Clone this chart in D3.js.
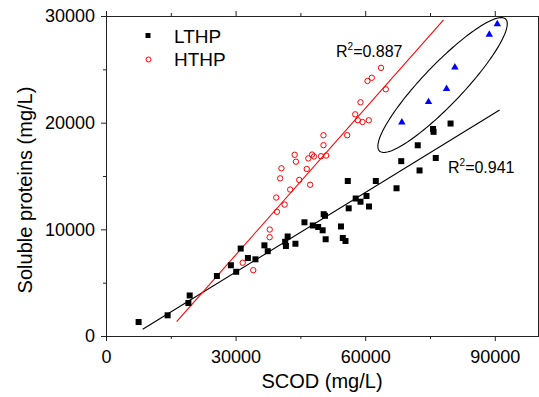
<!DOCTYPE html>
<html>
<head>
<meta charset="utf-8">
<script src="https://cdn.jsdelivr.net/npm/d3@7"></script>
<style>
  body { margin: 0; background: #fff; }
  svg text { font-family: "Liberation Sans", Arial, sans-serif; fill: #000; }
</style>
</head>
<body>
<div id="chart-area"></div>
<script>

// LTHP samples [SCOD, soluble proteins] (mg/L)
const lthpPoints = [
  [7550, 1310], [14270, 1940], [19070, 3090], [19370, 3800], [25670, 5625],
  [28910, 6630], [30140, 6020], [31180, 8200], [32850, 7310], [34590, 7190],
  [36670, 8500], [37440, 7950], [41470, 8830], [42050, 9330], [41650, 8440],
  [43850, 8650], [45940, 10660], [47860, 10360], [49110, 10220], [50150, 9910],
  [50850, 9070], [50390, 11420], [50690, 11270], [54390, 10270], [54810, 9190],
  [55440, 8910], [55970, 14530], [56180, 11970], [57800, 12890], [58910, 12590],
  [60300, 13125], [60880, 12140], [62460, 14530], [67250, 13850], [68340, 16390],
  [72580, 15520], [72160, 17880], [76330, 16690], [75710, 19410], [75820, 19140],
  [79760, 19920]
];

// HTHP samples
const hthpPoints = [
  [31650, 6870], [34080, 6170], [37900, 9980], [37880, 9260], [39410, 12980],
  [39570, 11650], [41350, 12320], [42630, 13730], [44730, 14630], [47260, 14180],
  [40330, 14780], [40610, 15720], [46470, 15660], [43670, 16990], [43970, 16340],
  [46840, 16650], [47700, 17010], [48140, 16830], [49760, 16850], [50970, 16920],
  [50340, 17890], [50340, 18820], [55830, 18820], [57690, 20780], [58290, 20230],
  [59380, 20060], [60830, 20220], [58910, 21910], [64770, 23130], [60530, 23910],
  [61530, 24210], [63660, 25140]
];

// circled group (blue triangles)
const circledPoints = [
  [68480, 20030], [74660, 21940], [78830, 23180], [80760, 25190],
  [88730, 28250], [90580, 29250]
];

// fitted lines: slope, intercept, x range
const lthpFit = { slope: 0.2488, intercept: -1485, from: 8490, to: 91110, r2: '0.941' };
const hthpFit = { slope: 0.4578, intercept: -6146, from: 16355, to: 78140, r2: '0.887' };

// ellipse around the circled group, in data units
const ellipseCenter = [77910, 23530];
const ellipseMajor = [14595, 6188];
const ellipseMinor = [3360, -1294];

const xTicksMajor = [0, 30000, 60000, 90000];
const xTicksMinor = [15000, 45000, 75000];
const yTicksMajor = [0, 10000, 20000, 30000];
const yTicksMinor = [5000, 15000, 25000];

const widthSvg = 539;
const heightSvg = 397;
const font = '"Liberation Sans", Arial, sans-serif';

const x = d3.scaleLinear().domain([0, 100000]).range([106, 538]);
const y = d3.scaleLinear().domain([0, 30000]).range([336, 16]);

const svg = d3.select('#chart-area').append('svg')
  .attr('width', widthSvg)
  .attr('height', heightSvg);

const styleAxis = (g) => {
  g.select('.domain').remove();
  g.selectAll('line').attr('stroke', '#222');
  g.selectAll('text')
    .attr('font-family', font)
    .attr('font-size', '18px')
    .attr('fill', '#000');
};

// bottom axis
svg.append('g')
  .attr('transform', `translate(0, ${y(0)})`)
  .call(d3.axisBottom(x).tickValues(xTicksMajor).tickSize(5).tickPadding(9)
    .tickFormat(d3.format('d')))
  .call(styleAxis);
svg.append('g')
  .attr('transform', `translate(0, ${y(0)})`)
  .call(d3.axisBottom(x).tickValues(xTicksMinor).tickSize(3).tickFormat(''))
  .call(styleAxis);

// top axis (ticks only)
svg.append('g')
  .attr('transform', `translate(0, ${y(30000)})`)
  .call(d3.axisTop(x).tickValues(xTicksMajor).tickSize(5).tickFormat(''))
  .call(styleAxis);
svg.append('g')
  .attr('transform', `translate(0, ${y(30000)})`)
  .call(d3.axisTop(x).tickValues(xTicksMinor).tickSize(3).tickFormat(''))
  .call(styleAxis);

// left axis
svg.append('g')
  .attr('transform', `translate(${x(0)}, 0)`)
  .call(d3.axisLeft(y).tickValues(yTicksMajor).tickSize(5).tickPadding(6)
    .tickFormat(d3.format('d')))
  .call(styleAxis);
svg.append('g')
  .attr('transform', `translate(${x(0)}, 0)`)
  .call(d3.axisLeft(y).tickValues(yTicksMinor).tickSize(3).tickFormat(''))
  .call(styleAxis);

// frame
svg.append('rect')
  .attr('x', x(0) + 0.5)
  .attr('y', y(30000) + 0.5)
  .attr('width', x(100000) - x(0))
  .attr('height', y(0) - y(30000))
  .attr('fill', 'none')
  .attr('stroke', '#222')
  .attr('stroke-width', 1);

// axis titles
svg.append('text')
  .text('SCOD (mg/L)')
  .attr('x', (x(0) + x(100000)) / 2)
  .attr('y', 388)
  .attr('text-anchor', 'middle')
  .attr('font-size', '20px');

svg.append('text')
  .text('Soluble proteins (mg/L)')
  .attr('transform', `translate(32, 190)rotate(-90)`)
  .attr('text-anchor', 'middle')
  .attr('font-size', '20px');

// fit lines
const fitLine = (fit, color) => {
  svg.append('line')
    .attr('x1', x(fit.from))
    .attr('y1', y(fit.slope * fit.from + fit.intercept))
    .attr('x2', x(fit.to))
    .attr('y2', y(fit.slope * fit.to + fit.intercept))
    .attr('stroke', color)
    .attr('stroke-width', 1.1);
};
fitLine(lthpFit, '#000');
fitLine(hthpFit, '#ff0000');

// ellipse
const ellipsePts = d3.range(0, 2 * Math.PI + 0.01, Math.PI / 90).map(t => [
  ellipseCenter[0] + Math.cos(t) * ellipseMajor[0] + Math.sin(t) * ellipseMinor[0],
  ellipseCenter[1] + Math.cos(t) * ellipseMajor[1] + Math.sin(t) * ellipseMinor[1]
]);
svg.append('path')
  .attr('d', d3.line().x(d => x(d[0])).y(d => y(d[1]))(ellipsePts))
  .attr('fill', 'none')
  .attr('stroke', '#000')
  .attr('stroke-width', 1.1);

// markers
const sq = 6;
svg.append('g').selectAll('rect')
  .data(lthpPoints)
  .enter().append('rect')
    .attr('x', d => x(d[0]) - sq / 2)
    .attr('y', d => y(d[1]) - sq / 2)
    .attr('width', sq)
    .attr('height', sq)
    .attr('fill', '#000');

svg.append('g').selectAll('circle')
  .data(hthpPoints)
  .enter().append('circle')
    .attr('cx', d => x(d[0]))
    .attr('cy', d => y(d[1]))
    .attr('r', 2.7)
    .attr('fill', 'none')
    .attr('stroke', '#ff0000')
    .attr('stroke-width', 1);

const tri = d3.symbol().type(d3.symbolTriangle).size(24);
svg.append('g').selectAll('path')
  .data(circledPoints)
  .enter().append('path')
    .attr('d', tri)
    .attr('transform', d => `translate(${x(d[0])}, ${y(d[1])})`)
    .attr('fill', '#0000ff');

// R2 labels
const r2Label = (fit, px, py) => {
  const t = svg.append('text')
    .attr('x', px)
    .attr('y', py)
    .attr('font-size', '16px');
  t.append('tspan').text('R');
  t.append('tspan').text('2').attr('dy', -7).attr('font-size', '10px');
  t.append('tspan').text('=' + fit.r2).attr('dy', 7);
};
r2Label(hthpFit, 336, 57);
r2Label(lthpFit, 448, 173);

// legend
const legend = svg.append('g');
legend.append('rect')
  .attr('x', 148 - sq / 2 + 0.5)
  .attr('y', 36 - sq / 2)
  .attr('width', sq - 1)
  .attr('height', sq - 1)
  .attr('fill', '#000');
legend.append('text')
  .text('LTHP')
  .attr('x', 174)
  .attr('y', 43)
  .attr('font-size', '19px');
legend.append('circle')
  .attr('cx', 148.5)
  .attr('cy', 59.5)
  .attr('r', 2.5)
  .attr('fill', 'none')
  .attr('stroke', '#ff0000');
legend.append('text')
  .text('HTHP')
  .attr('x', 174)
  .attr('y', 66)
  .attr('font-size', '19px');

</script>
</body>
</html>
